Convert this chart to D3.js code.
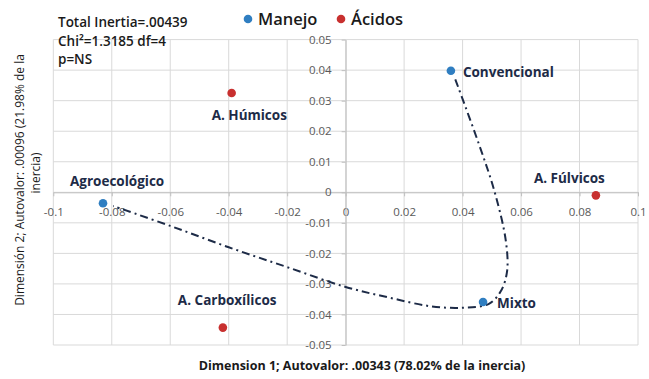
<!DOCTYPE html>
<html>
<head>
<meta charset="utf-8">
<script src="https://cdn.jsdelivr.net/npm/d3@7"></script>
<style>
  body { margin: 0; background: #fff; }
  svg text { font-family: "Open Sans", Lato, sans-serif; }
</style>
</head>
<body>
<div id="chart"></div>
<script>
// --- data ---
const manejoNames = ["Convencional", "Mixto", "Agroecológico"];
const manejoX = [0.036, 0.047, -0.083];
const manejoY = [0.0398, -0.0359, -0.0036];

const acidosNames = ["A. Húmicos", "A. Fúlvicos", "A. Carboxílicos"];
const acidosX = [-0.039, 0.0856, -0.042];
const acidosY = [0.0325, -0.001, -0.0443];

// hand drawn dash-dot guide curve
const curveX = [0.0375, 0.0455, 0.051, 0.0548, 0.0552, 0.053, 0.049, 0.040, 0.029, 0.015, 0.0, -0.02, -0.04, -0.06, -0.0795];
const curveY = [0.037, 0.016, 0.0, -0.016, -0.026, -0.0325, -0.0365, -0.0378, -0.0373, -0.0345, -0.031, -0.0245, -0.018, -0.011, -0.0045];

const xTicks = [-0.1, -0.08, -0.06, -0.04, -0.02, 0, 0.02, 0.04, 0.06, 0.08, 0.1];
const yTicks = [-0.05, -0.04, -0.03, -0.02, -0.01, 0, 0.01, 0.02, 0.03, 0.04, 0.05];

const statsLines = ["Total Inertia=.00439", "Chi²=1.3185 df=4", "p=NS"];
const xTitle = "Dimension 1; Autovalor: .00343 (78.02% de la inercia)";
const yTitle = ["Dimensión 2; Autovalor: .00096 (21.98% de la", "inercia)"];

// label placement (pixels relative to the point)
const labelOffset = {
  "Convencional": [12, 6],
  "Mixto": [14, 6],
  "Agroecológico": [-33, -17],
  "A. Húmicos": [-20, 27],
  "A. Fúlvicos": [-62, -12],
  "A. Carboxílicos": [-45, -23]
};

const width = 649, height = 379;
const blue = "#2f7ec1", red = "#c8302f", navy = "#1d2b47";

const svg = d3.select("#chart").append("svg")
  .attr("width", width).attr("height", height);

const xScale = d3.scaleLinear().domain([-0.1, 0.1]).range([53.3, 638]);
const yScale = d3.scaleLinear().domain([-0.05, 0.05]).range([345, 39.6]);

// gridlines
svg.append("g").selectAll("line").data(xTicks).join("line")
  .attr("x1", d => xScale(d)).attr("x2", d => xScale(d))
  .attr("y1", yScale(0.05)).attr("y2", yScale(-0.05))
  .attr("stroke", "#d9d9d9").attr("stroke-width", 1);
svg.append("g").selectAll("line").data(yTicks).join("line")
  .attr("y1", d => yScale(d)).attr("y2", d => yScale(d))
  .attr("x1", xScale(-0.1)).attr("x2", xScale(0.1))
  .attr("stroke", "#d9d9d9").attr("stroke-width", 1);

const fmt = d => d === 0 ? "0" : String(+d.toFixed(2));

// axes through the origin
const xAxis = d3.axisBottom(xScale).tickValues(xTicks).tickFormat(fmt).tickSize(4).tickSizeOuter(0).tickPadding(12);
const yAxis = d3.axisLeft(yScale).tickValues(yTicks).tickFormat(fmt).tickSize(4).tickSizeOuter(0).tickPadding(10);

const gx = svg.append("g").attr("transform", `translate(0,${yScale(0)})`).call(xAxis);
const gy = svg.append("g").attr("transform", `translate(${xScale(0)},0)`).call(yAxis);
[gx, gy].forEach(g => {
  g.select(".domain").attr("stroke", "#bfbfbf");
  g.selectAll(".tick line").attr("stroke", "#bfbfbf");
  g.selectAll(".tick text").attr("fill", "#595959").style("font-size", "11.5px")
    .style("font-family", "'Open Sans', sans-serif");
});

// guide curve
const curvePts = curveX.map((x, i) => [x, curveY[i]]);
svg.append("path")
  .datum(curvePts)
  .attr("d", d3.line().x(d => xScale(d[0])).y(d => yScale(d[1])).curve(d3.curveCatmullRom.alpha(0.5)))
  .attr("fill", "none")
  .attr("stroke", navy)
  .attr("stroke-width", 2)
  .attr("stroke-dasharray", "8,4,2,4");

// points + labels
const series = [
  { names: manejoNames, xs: manejoX, ys: manejoY, color: blue },
  { names: acidosNames, xs: acidosX, ys: acidosY, color: red }
];
series.forEach(s => {
  const pts = s.names.map((n, i) => ({ name: n, x: s.xs[i], y: s.ys[i] }));
  svg.append("g").selectAll("circle").data(pts).join("circle")
    .attr("cx", d => xScale(d.x)).attr("cy", d => yScale(d.y))
    .attr("r", 4.3).attr("fill", s.color);
  svg.append("g").selectAll("text").data(pts).join("text")
    .attr("x", d => xScale(d.x) + labelOffset[d.name][0])
    .attr("y", d => yScale(d.y) + labelOffset[d.name][1])
    .attr("fill", navy)
    .style("font-size", "13.5px").style("font-weight", "bold")
    .text(d => d.name);
});

// legend
const legend = [{ label: "Manejo", color: blue, x: 248 }, { label: "Ácidos", color: red, x: 341 }];
legend.forEach(l => {
  svg.append("circle").attr("cx", l.x).attr("cy", 19).attr("r", 4.3).attr("fill", l.color);
  svg.append("text").attr("x", l.x + 10).attr("y", 25)
    .attr("fill", "#1a1a1a").style("font-size", "16.5px").style("font-weight", "600")
    .text(l.label);
});

// stats text
svg.append("g").selectAll("text").data(statsLines).join("text")
  .attr("x", 58).attr("y", (d, i) => 27 + i * 18.5)
  .attr("fill", "#1a1a1a").style("font-size", "13.5px").style("font-weight", "600")
  .text(d => d);

// axis titles
svg.append("text")
  .attr("x", 362).attr("y", 370)
  .attr("text-anchor", "middle")
  .attr("fill", "#1a1a1a").style("font-size", "12.5px").style("font-weight", "bold")
  .text(xTitle);

svg.append("g")
  .selectAll("text").data(yTitle).join("text")
  .attr("transform", (d, i) => `translate(${24 + i * 16},${i ? 173 : 180}) rotate(-90)`)
  .attr("text-anchor", "middle")
  .attr("fill", "#1a1a1a").style("font-size", "12px")
  .text(d => d);
</script>
</body>
</html>
